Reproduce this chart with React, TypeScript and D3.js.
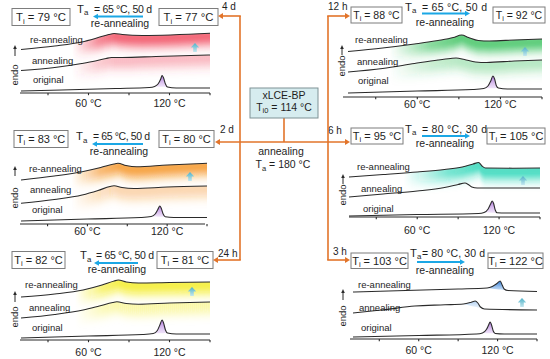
import React from "react";
import * as d3 from "d3";

type Pt = [number, number];

// ---------- data ----------
const SAMPLE = "xLCE-BP";
const TI0 = 114;
const ANNEAL_TA = 180;
const TIME_LABELS = ["4 d", "2 d", "24 h", "12 h", "6 h", "3 h"];
const TI_ANNEALED = [77, 80, 81, 88, 95, 103];
const TI_REANNEALED = [79, 83, 82, 92, 105, 122];
const REANNEAL_TA = [65, 65, 65, 65, 80, 80];
const REANNEAL_DAYS = [50, 50, 50, 50, 30, 30];
const X_DOMAIN: [number, number] = [10, 150];
const X_TICKS = [30, 60, 90, 120, 150];
const X_TICK_LABELS = [60, 120];
const Y_DOMAIN: [number, number] = [0, 6]; // heat flow (a.u., endo up)

// DSC traces: [temperature °C, heat flow a.u.]
const orig4d: Pt[] = [[10,0.2],[40,0.3],[80,0.45],[105,0.55],[109,0.65],[111.5,0.9],[113.5,1.4],[114.5,1.75],[115.5,1.55],[117,0.9],[118.5,0.6],[125,0.5],[150,0.5]];
const anneal4d: Pt[] = [[10,2.25],[35,2.55],[55,2.95],[65,3.2],[73,3.45],[77,3.55],[85,3.55],[110,3.65],[150,3.8]];
const reanneal4d: Pt[] = [[10,4.35],[35,4.7],[55,5.1],[65,5.45],[75,5.85],[79,5.95],[85,5.85],[100,5.75],[150,5.97]];

const orig2d: Pt[] = [[10,0.3],[60,0.5],[100,0.65],[108,0.75],[111,1.0],[113,1.45],[114.5,1.8],[115.5,1.6],[117,1.0],[118.5,0.72],[125,0.65],[150,0.65]];
const anneal2d: Pt[] = [[10,2.07],[35,2.45],[56,2.9],[68,3.35],[77,3.75],[80,3.82],[86,3.65],[95,3.55],[120,3.7],[150,3.8]];
const reanneal2d: Pt[] = [[10,4.4],[35,4.8],[56,5.23],[70,5.65],[80,6.0],[83,6.07],[89,5.85],[97,5.72],[120,5.9],[150,6.07]];

const orig24h: Pt[] = [[10,0.2],[60,0.4],[100,0.55],[108,0.65],[111,0.95],[113,1.55],[114.5,2.0],[115.5,1.75],[117,1.0],[118.5,0.7],[125,0.6],[150,0.6]];
const anneal24h: Pt[] = [[10,2.2],[35,2.55],[56,3.0],[68,3.4],[78,3.75],[81,3.82],[88,3.65],[97,3.58],[120,3.7],[150,3.8]];
const reanneal24h: Pt[] = [[10,4.3],[35,4.6],[56,5.0],[70,5.5],[79,5.9],[82,6.0],[88,5.8],[97,5.7],[120,5.75],[150,5.8]];

const orig12h: Pt[] = [[10,0.4],[60,0.6],[100,0.75],[108,0.85],[111,1.1],[113,1.6],[114.6,2.1],[115.8,1.8],[117,1.15],[118.5,0.9],[125,0.8],[150,0.8]];
const anneal12h: Pt[] = [[10,2.5],[35,2.85],[58,3.35],[75,3.7],[84,3.85],[88,3.9],[94,3.75],[102,3.5],[110,3.45],[130,3.6],[150,3.7]];
const reanneal12h: Pt[] = [[10,4.55],[35,4.9],[58,5.3],[75,5.65],[86,5.95],[92,6.2],[97,5.95],[104,5.65],[112,5.6],[130,5.7],[150,5.8]];

const orig6h: Pt[] = [[10,0.1],[60,0.25],[105,0.35],[109,0.45],[112,0.8],[113.8,1.3],[115,1.6],[116,1.35],[117.2,0.7],[118.5,0.42],[125,0.4],[150,0.4]];
const anneal6h: Pt[] = [[10,2.0],[35,2.3],[60,2.6],[80,2.95],[90,3.25],[95,3.4],[97.5,3.25],[100,3.0],[104,2.9],[150,2.9]];
const reanneal6h: Pt[] = [[10,4.0],[35,4.25],[60,4.5],[80,4.75],[93,5.0],[101,5.3],[105,5.45],[107.5,5.1],[110,4.9],[130,4.88],[150,4.9]];

const orig3h: Pt[] = [[10,0.2],[60,0.35],[104,0.5],[108.5,0.6],[111.5,0.95],[113.2,1.4],[114.3,1.7],[115.3,1.45],[116.7,0.8],[118.2,0.55],[125,0.5],[150,0.5]];
const anneal3h: Pt[] = [[10,2.6],[35,2.95],[57,3.3],[80,3.42],[94,3.5],[100,3.68],[103,3.8],[105,3.6],[107,3.2],[110,3.0],[150,2.9]];
const reanneal3h: Pt[] = [[10,4.7],[50,4.85],[90,5.0],[112,5.1],[116,5.25],[119.5,5.55],[122,5.8],[123.5,5.4],[125,5.0],[128,4.85],[150,4.75]];

const ORIGINAL = [orig4d, orig2d, orig24h, orig12h, orig6h, orig3h];
const ANNEALING = [anneal4d, anneal2d, anneal24h, anneal12h, anneal6h, anneal3h];
const REANNEALING = [reanneal4d, reanneal2d, reanneal24h, reanneal12h, reanneal6h, reanneal3h];

// ---------- layout / style ----------
const FONT = "'Liberation Sans', Arial, Helvetica, sans-serif";
const ORANGE = "#e2742a";
const BLUE = "#1ba7e5";
const TXT = "#1e1e1e";

interface Lay {
  x0: number; x1: number; axisX: [number, number]; axisY: number; tickLabelY: number;
  boxL: [number, number]; boxR: [number, number]; boxY: number; boxH: number; boxFont: number;
  taX: number; eqX: number; eqW: number; taY: number; taFont: number; arrowY: number; arrowFrom: number; arrowTo: number;
  reX: number; reY: number; timeX: number; timeY: number;
  endoX: number; endoY: number; endoArrow: [number, number];
  labelX: [number, number, number]; labelY: [number, number, number];
  cyanX: number; cyanY: number;
  fill: string | null; fillStart: number; fillFull: number; annealFill: boolean; bluePeaks: boolean;
}

const LAYOUT: Lay[] = [
  { x0: 21, x1: 210, axisX: [20, 210], axisY: 93, tickLabelY: 107,
    boxL: [12, 70], boxR: [159, 218], boxY: 8.5, boxH: 17, boxFont: 11.3,
    taX: 77, eqX: 94, eqW: 58, taY: 12.5, taFont: 10.5, arrowY: 16.5, arrowFrom: 143, arrowTo: 93, reX: 120, reY: 26.5,
    timeX: 222, timeY: 10, endoX: 15, endoY: 75, endoArrow: [56, 45],
    labelX: [30, 32, 33], labelY: [42.5, 63.5, 83], cyanX: 195, cyanY: 43,
    fill: "#ef3a50", fillStart: 48, fillFull: 80, annealFill: true, bluePeaks: false },
  { x0: 21, x1: 207, axisX: [20, 205], axisY: 224, tickLabelY: 235,
    boxL: [14, 68], boxR: [159, 214], boxY: 130.5, boxH: 17, boxFont: 11,
    taX: 76, eqX: 93, eqW: 57, taY: 140, taFont: 10.5, arrowY: 144, arrowFrom: 143, arrowTo: 92, reX: 119, reY: 154.5,
    timeX: 220, timeY: 133, endoX: 15, endoY: 198, endoArrow: [176, 166],
    labelX: [29, 30, 32], labelY: [171.5, 192.5, 212.5], cyanX: 190, cyanY: 172,
    fill: "#f48a12", fillStart: 48, fillFull: 84, annealFill: true, bluePeaks: false },
  { x0: 21, x1: 210, axisX: [20, 210], axisY: 340, tickLabelY: 356,
    boxL: [12, 65], boxR: [157, 213], boxY: 251.5, boxH: 17, boxFont: 11,
    taX: 80, eqX: 96, eqW: 58, taY: 259, taFont: 10.5, arrowY: 263, arrowFrom: 138, arrowTo: 94, reX: 117, reY: 273,
    timeX: 218, timeY: 257, endoX: 15, endoY: 317, endoArrow: [302, 291],
    labelX: [25, 29, 32], labelY: [288, 311, 331], cyanX: 192, cyanY: 287,
    fill: "#f2ea10", fillStart: 50, fillFull: 84, annealFill: true, bluePeaks: false },
  { x0: 348, x1: 542, axisX: [343, 542], axisY: 97, tickLabelY: 108,
    boxL: [351, 402], boxR: [493, 545], boxY: 7, boxH: 16, boxFont: 10.5,
    taX: 405, eqX: 422, eqW: 65, taY: 10.5, taFont: 10.5, arrowY: 13.5, arrowFrom: 422, arrowTo: 470, reX: 445, reY: 25.5,
    timeX: 328, timeY: 10, endoX: 342, endoY: 66, endoArrow: [55, 45],
    labelX: [355, 357, 358], labelY: [43, 65, 84], cyanX: 525, cyanY: 47,
    fill: "#2cbd52", fillStart: 40, fillFull: 90, annealFill: true, bluePeaks: false },
  { x0: 349, x1: 540, axisX: [349, 540], axisY: 217, tickLabelY: 234,
    boxL: [351, 403], boxR: [487, 545], boxY: 128, boxH: 16, boxFont: 11,
    taX: 405, eqX: 422, eqW: 65, taY: 132.5, taFont: 10.5, arrowY: 136, arrowFrom: 422, arrowTo: 470, reX: 445, reY: 147,
    timeX: 328, timeY: 134, endoX: 343, endoY: 195, endoArrow: [184, 174],
    labelX: [357, 361, 363], labelY: [170, 192, 212], cyanX: 523, cyanY: 176,
    fill: "#16d2b0", fillStart: 50, fillFull: 104, annealFill: false, bluePeaks: false },
  { x0: 353, x1: 537, axisX: [350, 537], axisY: 339, tickLabelY: 354,
    boxL: [351, 408], boxR: [488, 543], boxY: 253, boxH: 15.5, boxFont: 11,
    taX: 410, eqX: 422, eqW: 63, taY: 256.5, taFont: 10.5, arrowY: 262, arrowFrom: 417, arrowTo: 465, reX: 445, reY: 274,
    timeX: 333, timeY: 254.5, endoX: 343, endoY: 316, endoArrow: [300, 289],
    labelX: [358, 359, 361], labelY: [288, 311, 331], cyanX: 522, cyanY: 298,
    fill: null, fillStart: 0, fillFull: 1, annealFill: false, bluePeaks: true },
];

const headH = (tipX: number, y: number, dir: number, len = 5, half = 3) =>
  `M${tipX},${y}L${tipX - dir * len},${y - half}L${tipX - dir * len},${y + half}Z`;
const headV = (x: number, tipY: number, len = 4, half = 2.2) =>
  `M${x},${tipY}L${x - half},${tipY + len}L${x + half},${tipY + len}Z`;

function TiBox({ x0, x1, y, h, v, fs }: { x0: number; x1: number; y: number; h: number; v: number; fs: number }) {
  return (
    <g>
      <rect x={x0} y={y} width={x1 - x0} height={h} fill="#fff" stroke="#7d7d7d" strokeWidth={1} />
      <text x={(x0 + x1) / 2} y={y + h / 2 + fs * 0.36} textAnchor="middle" fontSize={fs} fill={TXT}>
        <tspan>T</tspan>
        <tspan fontSize={fs * 0.68} dy={2.5}>i</tspan>
        <tspan dy={-2.5}>{` = ${v} °C`}</tspan>
      </text>
    </g>
  );
}

function Panel({ i }: { i: number }) {
  const L = LAYOUT[i];
  const x = d3.scaleLinear().domain(X_DOMAIN).range([L.x0, L.x1]);
  const y = d3.scaleLinear().domain(Y_DOMAIN).range([L.axisY, L.axisY - 60]);
  const line = d3.line<Pt>().x(d => x(d[0])).y(d => y(d[1])).curve(d3.curveMonotoneX);
  const band = (pts: Pt[]) =>
    d3.area<Pt>().x(d => x(d[0])).y1(d => y(d[1]) - 4).y0(d => y(d[1]) + 10)
      .curve(d3.curveMonotoneX)(pts) || "";
  const below = (pts: Pt[]) =>
    d3.area<Pt>().x(d => x(d[0])).y1(d => y(d[1])).y0(d => y(d[1]) + 40)
      .curve(d3.curveMonotoneX)(pts) || "";
  const peak = (pts: Pt[], lo: number, hi: number) => {
    const sub = pts.filter(d => d[0] >= lo && d[0] <= hi);
    const a = sub[0], b = sub[sub.length - 1];
    const base = (t: number) => a[1] + (b[1] - a[1]) * (t - a[0]) / (b[0] - a[0]);
    return d3.area<Pt>().x(d => x(d[0])).y0(d => y(base(d[0]))).y1(d => y(d[1]))
      .curve(d3.curveMonotoneX)(sub) || "";
  };
  const isLeft = i < 3;
  const id = `p${i}`;
  const labels = ["re-annealing", "annealing", "original"];
  const curves = [REANNEALING[i], ANNEALING[i], ORIGINAL[i]];
  const fills: { pts: Pt[]; op: number; k: string }[] = [];
  if (L.fill) {
    fills.push({ pts: REANNEALING[i], op: 0.95, k: "re" });
    if (L.annealFill) fills.push({ pts: ANNEALING[i], op: 0.42, k: "an" });
  }
  const c = L.cyanX, cy = L.cyanY;
  return (
    <g>
      <defs>
        <filter id={`${id}blur`} x="-0.02" y="-1.5" width="1.04" height="4">
          <feGaussianBlur stdDeviation="0 6" />
        </filter>
        {fills.map(f => (
          <React.Fragment key={f.k}>
            <linearGradient id={`${id}${f.k}h`} gradientUnits="userSpaceOnUse" x1={x(L.fillStart)} x2={x(L.fillFull)} y1={0} y2={0}>
              <stop offset="0" stopColor={L.fill!} stopOpacity={0} />
              <stop offset="0.6" stopColor={L.fill!} stopOpacity={f.op * 0.75} />
              <stop offset="1" stopColor={L.fill!} stopOpacity={f.op} />
            </linearGradient>
            <clipPath id={`${id}${f.k}c`}>
              <path d={below(f.pts)} />
            </clipPath>
          </React.Fragment>
        ))}
        <linearGradient id={`${id}pu`} x1="0" y1="0" x2="0" y2="1">
          <stop offset="0" stopColor="#a86ad8" stopOpacity={0.9} />
          <stop offset="1" stopColor="#e6d3f6" stopOpacity={0.6} />
        </linearGradient>
        <linearGradient id={`${id}bl`} x1="0" y1="0" x2="0" y2="1">
          <stop offset="0" stopColor="#1f6fd0" stopOpacity={0.95} />
          <stop offset="1" stopColor="#a9cdf2" stopOpacity={0.6} />
        </linearGradient>
        <linearGradient id={`${id}lb`} x1="0" y1="0" x2="0" y2="1">
          <stop offset="0" stopColor="#7fb3ea" stopOpacity={0.6} />
          <stop offset="1" stopColor="#d8e8f8" stopOpacity={0.4} />
        </linearGradient>
        <linearGradient id={`${id}cy`} x1="0" y1="0" x2="0" y2="1">
          <stop offset="0" stopColor="#4fb2c8" />
          <stop offset="1" stopColor="#c4e7ef" />
        </linearGradient>
      </defs>

      {/* fills */}
      {fills.map(f => (
        <g key={f.k} clipPath={`url(#${id}${f.k}c)`}>
          <path d={band(f.pts)} fill={`url(#${id}${f.k}h)`} filter={`url(#${id}blur)`} />
        </g>
      ))}
      <path d={peak(ORIGINAL[i], 108, 119)} fill={`url(#${id}pu)`} />
      {L.bluePeaks && <path d={peak(ANNEALING[i], 94, 110)} fill={`url(#${id}lb)`} />}
      {L.bluePeaks && <path d={peak(REANNEALING[i], 112, 128)} fill={`url(#${id}bl)`} />}

      {/* curves */}
      {curves.map((pts, k) => (
        <path key={k} d={line(pts) || ""} fill="none" stroke="#2a2a2a" strokeWidth={1.1} />
      ))}
      {labels.map((t, k) => (
        <text key={t} x={L.labelX[k]} y={L.labelY[k]} fontSize={9.5} fill={TXT}>{t}</text>
      ))}

      {/* axis */}
      <line x1={L.axisX[0]} x2={L.axisX[1]} y1={L.axisY} y2={L.axisY} stroke="#2a2a2a" strokeWidth={1.1} />
      {X_TICKS.map(t => (
        <line key={t} x1={x(t)} x2={x(t)} y1={L.axisY} y2={L.axisY + 2.2} stroke="#2a2a2a" strokeWidth={1.1} />
      ))}
      {X_TICK_LABELS.map(t => (
        <text key={t} x={x(t)} y={L.tickLabelY} textAnchor="middle" fontSize={10.5} fill={TXT}>{`${t} °C`}</text>
      ))}

      {/* endo */}
      <text transform={`translate(${L.endoX + 3.3},${L.endoY}) rotate(-90)`} textAnchor="middle" fontSize={9.5} fill={TXT}>endo</text>
      <line x1={L.endoX} x2={L.endoX} y1={L.endoArrow[0]} y2={L.endoArrow[1] + 3} stroke="#2a2a2a" strokeWidth={1} />
      <path d={headV(L.endoX, L.endoArrow[1], 4, 1.8)} fill="#2a2a2a" />

      {/* cyan block arrow */}
      <path d={`M${c},${cy}L${c - 4.2},${cy + 4.5}L${c - 1.8},${cy + 4.5}L${c - 1.8},${cy + 9}L${c + 1.8},${cy + 9}L${c + 1.8},${cy + 4.5}L${c + 4.2},${cy + 4.5}Z`} fill={`url(#${id}cy)`} />

      {/* header */}
      <TiBox x0={L.boxL[0]} x1={L.boxL[1]} y={L.boxY} h={L.boxH} fs={L.boxFont} v={isLeft ? TI_REANNEALED[i] : TI_ANNEALED[i]} />
      <TiBox x0={L.boxR[0]} x1={L.boxR[1]} y={L.boxY} h={L.boxH} fs={L.boxFont} v={isLeft ? TI_ANNEALED[i] : TI_REANNEALED[i]} />
      <text x={L.taX} y={L.taY} fontSize={L.taFont + 0.8} fill={TXT}>
        <tspan>T</tspan>
        <tspan fontSize={L.taFont * 0.75} dy={2.5}>a</tspan>
      </text>
      <text x={L.eqX} y={L.taY} fontSize={L.taFont} fill={TXT} textLength={L.eqW} lengthAdjust="spacing">
        {`= ${REANNEAL_TA[i]} °C, ${REANNEAL_DAYS[i]} d`}
      </text>
      <line x1={L.arrowFrom} x2={L.arrowTo + (isLeft ? 4 : -4)} y1={L.arrowY} y2={L.arrowY} stroke={BLUE} strokeWidth={1.8} />
      <path d={headH(L.arrowTo, L.arrowY, isLeft ? -1 : 1, 5, 2.8)} fill={BLUE} />
      <text x={L.reX} y={L.reY} textAnchor="middle" fontSize={10.5} fill={TXT}>re-annealing</text>
      <text x={L.timeX} y={L.timeY} fontSize={10} fill={TXT}>{TIME_LABELS[i]}</text>
    </g>
  );
}

function Connectors() {
  const sw = 1.6;
  return (
    <g>
      <path d="M240,16V260" stroke={ORANGE} strokeWidth={sw} fill="none" />
      <path d="M328,16V260" stroke={ORANGE} strokeWidth={sw} fill="none" />
      <path d="M240.8,16H222" stroke={ORANGE} strokeWidth={sw} />
      <path d={headH(218, 16, -1)} fill={ORANGE} />
      <path d="M327.2,16H346" stroke={ORANGE} strokeWidth={sw} />
      <path d={headH(350, 16, 1)} fill={ORANGE} />
      <path d="M219,142H346" stroke={ORANGE} strokeWidth={sw} />
      <path d={headH(215, 142, -1)} fill={ORANGE} />
      <path d={headH(350, 142, 1)} fill={ORANGE} />
      <path d="M240.8,260H217" stroke={ORANGE} strokeWidth={sw} />
      <path d={headH(213, 260, -1)} fill={ORANGE} />
      <path d="M327.2,260H346" stroke={ORANGE} strokeWidth={sw} />
      <path d={headH(350, 260, 1)} fill={ORANGE} />
      <path d="M284,118V142" stroke={ORANGE} strokeWidth={sw} />
      <rect x={250} y={88} width={68} height={30} fill="#d6ecef" stroke="#7f9295" strokeWidth={1} />
      <text x={284} y={98.5} textAnchor="middle" fontSize={10.5} fill={TXT}>{SAMPLE}</text>
      <text x={284} y={110.5} textAnchor="middle" fontSize={10.5} fill={TXT}>
        <tspan>T</tspan>
        <tspan fontSize={7.5} dy={2.5}>i0</tspan>
        <tspan dy={-2.5}>{` = ${TI0} °C`}</tspan>
      </text>
      <text x={281} y={155} textAnchor="middle" fontSize={10.5} fill={TXT}>annealing</text>
      <text x={283} y={168} textAnchor="middle" fontSize={10.5} fill={TXT}>
        <tspan>T</tspan>
        <tspan fontSize={7.5} dy={2.5}>a</tspan>
        <tspan dy={-2.5}>{` = ${ANNEAL_TA} °C`}</tspan>
      </text>
    </g>
  );
}

export default function App() {
  return (
    <svg width={550} height={359} viewBox="0 0 550 359" fontFamily={FONT}
      style={{ position: "absolute", left: 0, top: 0, background: "#fff", display: "block" }}>
      <rect width={550} height={359} fill="#fff" />
      {LAYOUT.map((_, i) => <Panel key={i} i={i} />)}
      <Connectors />
    </svg>
  );
}
